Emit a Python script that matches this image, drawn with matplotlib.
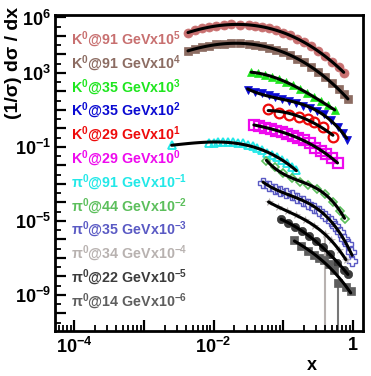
import numpy as np
import matplotlib
matplotlib.use('Agg')
import matplotlib.pyplot as plt
from matplotlib.ticker import FixedLocator, FuncFormatter, NullFormatter, LogLocator

plt.rcParams['font.family'] = ['Liberation Sans', 'DejaVu Sans']
plt.rcParams['mathtext.fontset'] = 'custom'
plt.rcParams['mathtext.rm'] = 'Liberation Sans:bold'
plt.rcParams['mathtext.bf'] = 'Liberation Sans:bold'
plt.rcParams['mathtext.it'] = 'Liberation Sans:bold'
plt.rcParams['mathtext.default'] = 'rm'

# ---------------- data (already multiplied by the scale factors) ----------------
k91a_x = [0.0043, 0.0054, 0.0068, 0.0085, 0.011, 0.014, 0.018, 0.024, 0.032, 0.040, 0.050, 0.063,
          0.080, 0.100, 0.126, 0.160, 0.200, 0.250, 0.320, 0.400, 0.500, 0.630, 0.740]
k91a_y = [1.45e5, 2.0e5, 2.57e5, 3.09e5, 3.47e5, 3.89e5, 4.17e5, 4.07e5, 3.89e5, 3.55e5, 3.09e5, 2.63e5,
          2.04e5, 1.51e5, 1.07e5, 7.2e4, 4.6e4, 2.75e4, 1.51e4, 7.9e3, 4.0e3, 2.0e3, 1.05e3]

k91b_x = [0.0043, 0.0054, 0.0068, 0.0085, 0.011, 0.014, 0.018, 0.024, 0.032, 0.040, 0.050, 0.063,
          0.080, 0.100, 0.126, 0.160, 0.200, 0.250, 0.320, 0.400, 0.500, 0.630, 0.740, 0.850]
k91b_y = [1.51e4, 2.0e4, 2.51e4, 3.02e4, 3.47e4, 3.8e4, 3.98e4, 3.98e4, 3.72e4, 3.31e4, 2.82e4, 2.34e4,
          1.82e4, 1.32e4, 9.1e3, 6.0e3, 3.7e3, 2.14e3, 1.15e3, 589, 282, 132, 71, 37]

k35a_x = [0.0347, 0.0437, 0.055, 0.069, 0.087, 0.11, 0.138, 0.174, 0.219, 0.275, 0.347, 0.437, 0.55]
k35a_y = [1122, 955, 794, 631, 479, 331, 214, 138, 85, 50, 29.5, 17.8, 10]

k35b_x = [0.0309, 0.0389, 0.049, 0.0617, 0.0776, 0.0977, 0.123, 0.155, 0.195, 0.245, 0.309, 0.389,
          0.49, 0.617, 0.724, 0.82]
k35b_y = [120, 98, 78, 62, 48, 37, 29, 22.4, 17, 12.6, 8.9, 5.75, 2.8, 1.2, 0.56, 0.24]

k29a_x = [0.061, 0.0877, 0.122, 0.169, 0.227, 0.277, 0.372, 0.518]
k29a_y = [11.2, 6.9, 5.4, 4.2, 3.2, 2.24, 1.2, 0.35]

k29b_x = [0.038, 0.0457, 0.055, 0.066, 0.0794, 0.0955, 0.115, 0.138, 0.166, 0.2, 0.24, 0.288,
          0.347, 0.417, 0.5, 0.603]
k29b_y = [1.58, 1.35, 1.12, 0.93, 0.76, 0.63, 0.51, 0.41, 0.31, 0.23, 0.158, 0.093,
          0.06, 0.042, 0.025, 0.014]

p91_x = [0.00251, 0.0085, 0.01, 0.0117, 0.0138, 0.0162, 0.019, 0.0224, 0.0263, 0.0309, 0.0363,
         0.0427, 0.0501, 0.0589, 0.0692, 0.0813, 0.0955, 0.112, 0.132, 0.155]
p91_y = [0.129, 0.158, 0.17, 0.178, 0.182, 0.182, 0.178, 0.17, 0.155, 0.132, 0.107,
         0.085, 0.0646, 0.0468, 0.0355, 0.0275, 0.02, 0.0138, 0.0087, 0.0056]

p44_x = [0.0575, 0.0759, 0.1, 0.132, 0.174, 0.229, 0.302, 0.398, 0.525, 0.66, 0.76]
p44_y = [0.0174, 0.0079, 0.0038, 0.002, 0.00135, 9.3e-4, 5.4e-4, 2.8e-4, 1.12e-4, 3.5e-5, 1.25e-5]

p35_x = [0.0513, 0.063, 0.0759, 0.0912, 0.11, 0.132, 0.158, 0.19, 0.229, 0.275, 0.331, 0.398,
         0.479, 0.562, 0.661, 0.759, 0.851, 0.933, 0.977]
p35_y = [1.12e-3, 7.6e-4, 5.6e-4, 4.4e-4, 3.3e-4, 2.4e-4, 1.74e-4, 1.2e-4, 7.9e-5, 5.2e-5, 3.4e-5,
         1.9e-5, 1.0e-5, 5.0e-6, 2.4e-6, 1.12e-6, 6.0e-7, 2.2e-7, 7.1e-8]

p34_x = [0.0617, 0.0832, 0.112, 0.151, 0.204, 0.275, 0.398, 0.49, 0.631, 0.794]
p34_y = [1.05e-4, 6.0e-5, 3.55e-5, 2.1e-5, 1.12e-5, 5.6e-6, 1.9e-6, 8.9e-7, 2.8e-7, 7.9e-8]
p34_elo = [0, 0, 0, 0, 0, 0, 1.9e-6, 0, 0, 0]

p22_x = [0.0933, 0.117, 0.148, 0.186, 0.234, 0.295, 0.372, 0.468, 0.589, 0.741, 0.851]
p22_y = [1.29e-5, 7.9e-6, 4.7e-6, 2.8e-6, 1.58e-6, 8.3e-7, 3.8e-7, 1.58e-7, 5.6e-8, 2.24e-8, 1.41e-8]

p14_x = [0.145, 0.182, 0.224, 0.275, 0.331, 0.389, 0.457, 0.537, 0.617, 0.794, 0.933]
p14_y = [9.3e-7, 4.5e-7, 2.4e-7, 1.45e-7, 1.0e-7, 7.6e-8, 4.5e-8, 2.24e-8, 4.5e-9, 2.8e-9, 1.58e-9]
p14_elo = [0, 0, 0, 0, 0, 0, 0, 0, 4.5e-9, 0, 0]

labels = [r'K$^{0}$@91 GeVx10$^{5}$', r'K$^{0}$@91 GeVx10$^{4}$', r'K$^{0}$@35 GeVx10$^{3}$',
          r'K$^{0}$@35 GeVx10$^{2}$', r'K$^{0}$@29 GeVx10$^{1}$', r'K$^{0}$@29 GeVx10$^{0}$',
          r'π$^{0}$@91 GeVx10$^{-1}$', r'π$^{0}$@44 GeVx10$^{-2}$', r'π$^{0}$@35 GeVx10$^{-3}$',
          r'π$^{0}$@34 GeVx10$^{-4}$', r'π$^{0}$@22 GeVx10$^{-5}$', r'π$^{0}$@14 GeVx10$^{-6}$']

colors = ['#c87070', '#8c6c62', '#1ee61e', '#0a0ad2', '#ee0a0a', '#ee0aee',
          '#22e8e8', '#5cbf5c', '#5a5ac4', '#b8b2b0', '#3c3c3c', '#5e5e5e']

series = [(k91a_x, k91a_y), (k91b_x, k91b_y), (k35a_x, k35a_y), (k35b_x, k35b_y),
          (k29a_x, k29a_y), (k29b_x, k29b_y), (p91_x, p91_y), (p44_x, p44_y),
          (p35_x, p35_y), (p34_x, p34_y), (p22_x, p22_y), (p14_x, p14_y)]

# marker, size, filled, edge width
styles = [('o', 6.5, True, 0.5), ('s', 6.0, True, 0.5), ('^', 6.0, True, 0.5), ('v', 6.0, True, 0.5),
          ('o', 7.0, False, 1.6), ('s', 6.5, False, 1.6), ('^', 6.0, False, 1.3), ('D', 4.5, False, 1.2),
          ('P', 6.5, False, 1.0), ('*', 5.5, True, 0.5), ('o', 6.0, True, 0.5), ('s', 6.0, True, 0.5)]

W, H = 371, 376
fig = plt.figure(figsize=(W / 100, H / 100), dpi=100)
ax = fig.add_axes([55 / W, 1 - 331 / H, (363 - 55) / W, (331 - 15) / H])
ax.set_xscale('log')
ax.set_yscale('log')
ax.set_xlim(5.3e-5, 1.4)
ax.set_ylim(1.12e-11, 1.36e6)

# error bars reaching zero
ax.errorbar(p34_x, p34_y, yerr=[p34_elo, np.zeros(len(p34_elo))], fmt='none',
            ecolor=colors[9], elinewidth=1.5, capsize=0, zorder=1)
ax.errorbar(p14_x, p14_y, yerr=[p14_elo, np.zeros(len(p14_elo))], fmt='none',
            ecolor='#777777', elinewidth=1.5, capsize=0, zorder=1)

for (xs, ys), c, (m, ms, filled, mew) in zip(series, colors, styles):
    ax.plot(xs, ys, linestyle='none', marker=m, markersize=ms,
            markerfacecolor=c if filled else 'none', markeredgecolor=c,
            markeredgewidth=mew, zorder=2)

# black fit curves (polynomial fit in log-log space)
for xs, ys in series:
    lx = np.log10(xs)
    ly = np.log10(ys)
    deg = 3 if len(xs) > 8 else 2
    p = np.polyfit(lx, ly, deg)
    gx = np.linspace(lx.min(), lx.max(), 120)
    ax.plot(10 ** gx, 10 ** np.polyval(p, gx), color='black', lw=2.2, zorder=3,
            solid_capstyle='round')

# legend texts
for i, (lab, c) in enumerate(zip(labels, colors)):
    fig.text(71 / W, 1 - (40 + 23.8 * i) / H, lab, color=c, fontsize=10.3,
             fontweight='bold', ha='left', va='center')

# ticks
ax.xaxis.set_major_locator(FixedLocator([1e-4, 1e-3, 1e-2, 1e-1, 1.0]))
ax.xaxis.set_minor_locator(LogLocator(base=10, subs=np.arange(2, 10), numticks=50))
xlab = {-4: r'$10^{-4}$', -2: r'$10^{-2}$', 0: r'$1$'}
ax.xaxis.set_major_formatter(FuncFormatter(lambda v, pos: xlab.get(int(round(np.log10(v))), '')))
ax.xaxis.set_minor_formatter(NullFormatter())

ax.yaxis.set_major_locator(FixedLocator([10.0 ** k for k in range(-11, 7)]))
ax.yaxis.set_minor_locator(FixedLocator([10.0 ** (k + 0.5) for k in range(-11, 6)]))
ylab = {6: r'$10^{6}$', 3: r'$10^{3}$', -1: r'$10^{-1}$', -5: r'$10^{-5}$', -9: r'$10^{-9}$'}
ax.yaxis.set_major_formatter(FuncFormatter(lambda v, pos: ylab.get(int(round(np.log10(v))), '')))
ax.yaxis.set_minor_formatter(NullFormatter())

ax.tick_params(which='major', direction='in', length=8, width=1.6, labelsize=13,
               top=False, right=False)
ax.tick_params(which='minor', direction='in', length=4.5, width=1.3, top=False, right=False)
ax.tick_params(axis='x', which='major', pad=4)
ax.tick_params(axis='y', which='major', pad=3)
for sp in ax.spines.values():
    sp.set_linewidth(2)

fig.text(14 / W, 1 - 7 / H, '(1/σ) dσ / dx', rotation=90, ha='center', va='top',
         fontsize=14, fontweight='bold')
fig.text(312 / W, 1 - 366 / H, 'x', ha='center', va='center', fontsize=13, fontweight='bold')

fig.savefig('out.png', dpi=100)
